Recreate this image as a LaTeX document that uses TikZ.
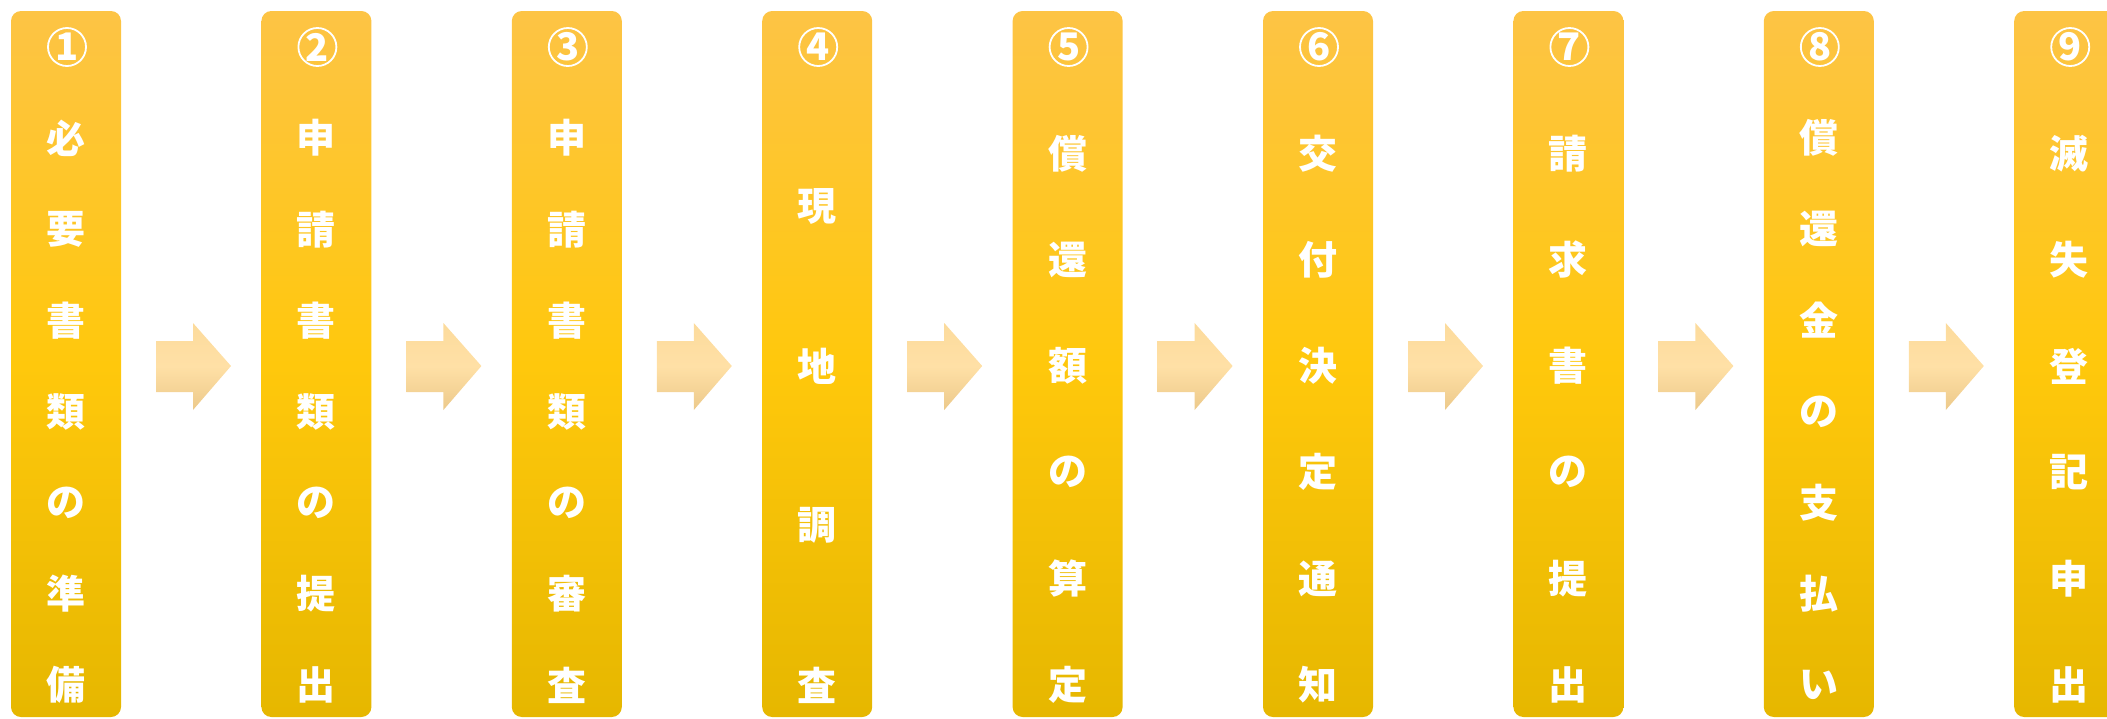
\documentclass[tikz,border=0pt]{standalone}
\usepackage{fontspec}
\newfontfamily\cjk{Noto Sans CJK JP}
\definecolor{coltop}{HTML}{FDC445}
\definecolor{colmid}{HTML}{FFC80C}
\definecolor{colbot}{HTML}{E6B700}
\definecolor{arrtop}{HTML}{FCDB9C}
\definecolor{arrmid}{HTML}{FFE0A6}
\definecolor{arrbot}{HTML}{ECC98A}
\tikzset{
  colbox/.style={rounded corners=5pt, top color=coltop, bottom color=colbot, middle color=colmid, draw=none},
  arrbox/.style={top color=arrtop, bottom color=arrbot, middle color=arrmid, draw=none},
  txt/.style={text=white, font=\cjk\bfseries\fontsize{19.5}{20}\selectfont, inner sep=0pt},
  numtxt/.style={circle, draw=white, line width=0.9pt, minimum size=19pt, inner sep=0pt,
    text=white, font=\cjk\bfseries\fontsize{19}{19}\selectfont}
}
\begin{document}
\begin{tikzpicture}[x=0.5pt,y=-0.5pt]
\useasboundingbox (0,0) rectangle (2107,718);
\foreach \num/\chars/\n [count=\k from 0] in {
  1/{必,要,書,類,の,準,備}/7,
  2/{申,請,書,類,の,提,出}/7,
  3/{申,請,書,類,の,審,査}/7,
  4/{現,地,調,査}/4,
  5/{償,還,額,の,算,定}/6,
  6/{交,付,決,定,通,知}/6,
  7/{請,求,書,の,提,出}/6,
  8/{償,還,金,の,支,払,い}/7,
  9/{滅,失,登,記,申,出}/6}{
  \pgfmathsetmacro\xl{11+250.4*\k}
  \pgfmathsetmacro\xc{\xl+55}
  \shade[colbox] (\xl,11) rectangle ++(110,706);
  \node[numtxt] (n\k) at (\xc+1,47) {\num};
  \foreach \c [count=\j] in \chars {
    \pgfmathsetmacro\yc{47+\j*638/\n}
    \node[txt] (t\k-\j) at (\xc,\yc) {\c};
  }
}
\foreach \k in {0,...,7}{
  \pgfmathsetmacro\xa{156+250.4*\k}
  \shade[arrbox] (\xa,341) -- ++(37,0) -- ++(0,-18) -- ++(38,43) -- ++(-38,44) -- ++(0,-18) -- ++(-37,0) -- cycle;
}
\end{tikzpicture}
\end{document}
